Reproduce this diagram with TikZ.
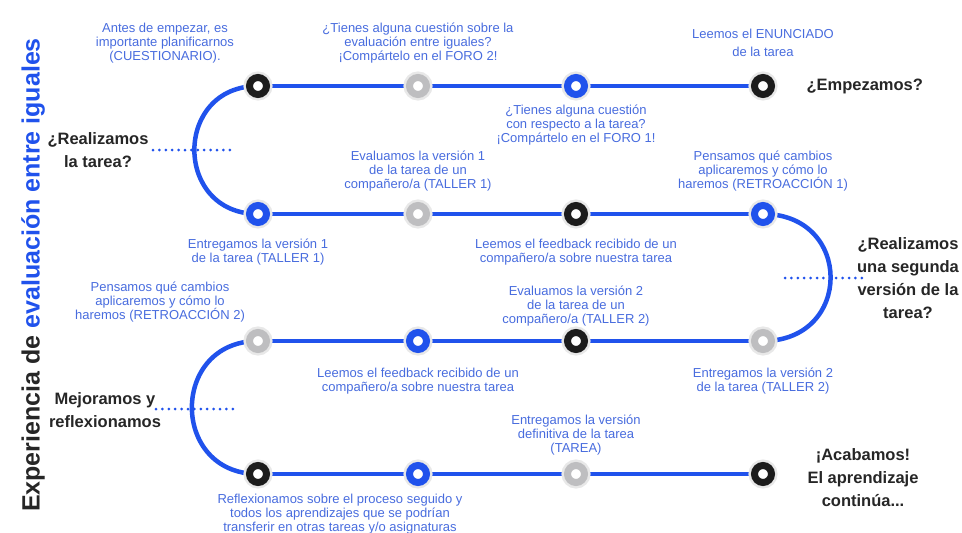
\documentclass[tikz,border=0pt]{standalone}
\usepackage{fontspec}
\setmainfont{Liberation Sans}
\usetikzlibrary{backgrounds, positioning}

\definecolor{pathblue}{RGB}{32,82,236}
\definecolor{textblue}{RGB}{72,108,222}
\definecolor{stopblack}{RGB}{28,28,28}
\definecolor{stopgrey}{RGB}{190,190,192}
\definecolor{headdark}{RGB}{38,38,38}

\begin{document}
\begin{tikzpicture}[x=1pt, y=-1pt,
		milestone/.style={circle, draw=#1, line width=7pt, fill=white, minimum size=17pt, inner sep=0pt, preaction={draw=black!9, line width=12pt}},
		track/.style={draw=pathblue, line width=4.5pt},
		dots/.style={draw=pathblue, line width=3pt, line cap=round, dash pattern=on 0pt off 6.4pt},
		desc/.style={text=textblue, font=\fontsize{13}{14.2}\selectfont, align=center},
		question/.style={text=headdark, font=\fontsize{16.5}{23}\selectfont\bfseries, align=center}
		]
		\useasboundingbox (0,0) rectangle (962,533);
		
		% ----- Title -----
		\node[rotate=90, font=\fontsize{25}{28}\selectfont\bfseries] (title) at (33,275) {\textcolor{headdark}{Experiencia de} \textcolor{pathblue}{evaluación entre iguales}};
		
		% Milestones, row 1
		\node[milestone=stopblack] (r1a) at (258,86) {};
		\node[milestone=stopgrey] (r1b) at (418,86) {};
		\node[milestone=pathblue] (r1c) at (576,86) {};
		\node[milestone=stopblack] (r1d) at (763,86) {};
		
		% Milestones, row 2
		\node[milestone=pathblue] (r2a) at (258,214) {};
		\node[milestone=stopgrey] (r2b) at (418,214) {};
		\node[milestone=stopblack] (r2c) at (576,214) {};
		\node[milestone=pathblue] (r2d) at (763,214) {};
		
		% Milestones, row 3
		\node[milestone=stopgrey] (r3a) at (258,341) {};
		\node[milestone=pathblue] (r3b) at (418,341) {};
		\node[milestone=stopblack] (r3c) at (576,341) {};
		\node[milestone=stopgrey] (r3d) at (763,341) {};
		
		% Milestones, row 4
		\node[milestone=stopblack] (r4a) at (258,474) {};
		\node[milestone=pathblue] (r4b) at (418,474) {};
		\node[milestone=stopgrey] (r4c) at (576,474) {};
		\node[milestone=stopblack] (r4d) at (763,474) {};
		
		% Track
		\begin{scope}[on background layer]
			\draw[track] (r1a.center) -- (r1d.center);
			\draw[track] (r2a.center) -- (r2d.center);
			\draw[track] (r3a.center) -- (r3d.center);
			\draw[track] (r4a.center) -- (r4d.center);
			\draw[track] (r1a.center) to[out=180, in=180, looseness=1.7] (r2a.center);
			\draw[track] (r2d.center) to[out=0, in=0, looseness=1.82] (r3d.center);
			\draw[track] (r3a.center) to[out=180, in=180, looseness=1.7] (r4a.center);
		\end{scope}
		
		% Dotted markers
		\coordinate (q1l) at (153,150); \coordinate (q1r) at (236,150);
		\coordinate (q2l) at (785,278); \coordinate (q2r) at (868,278);
		\coordinate (q3l) at (156,409); \coordinate (q3r) at (236,409);
		\draw[dots] (q1l) -- (q1r);
		\draw[dots] (q2l) -- (q2r);
		\draw[dots] (q3l) -- (q3r);
		
		% Questions
		\node[question, anchor=west] (qstart) at (803,86) {¿Empezamos?};
		\node[question] (qtask) at (98,150) {¿Realizamos\\la tarea?};
		\node[question] (qsecond) at (908,278) {¿Realizamos\\una segunda\\versión de la\\tarea?};
		\node[question] (qimprove) at (105,410) {Mejoramos y\\reflexionamos};
		\node[question] (qend) at (863,478) {¡Acabamos!\\El aprendizaje\\continúa...};
		
		% Descriptions, row 1
		\node[desc] (t1a) at (165,43) {Antes de empezar, es\\importante planificarnos\\(CUESTIONARIO).};
		\node[desc] (t1b) at (418,43) {¿Tienes alguna cuestión sobre la\\evaluación entre iguales?\\¡Compártelo en el FORO 2!};
		\node[desc] (t1c) at (576,125) {¿Tienes alguna cuestión\\con respecto a la tarea?\\¡Compártelo en el FORO 1!};
		\node[desc] (t1d) at (763,43) {Leemos el ENUNCIADO\\[4pt]de la tarea};
		
		% Descriptions, row 2
		\node[desc] (t2a) at (258,252) {Entregamos la versión 1\\de la tarea (TALLER 1)};
		\node[desc] (t2b) at (418,171) {Evaluamos la versión 1\\de la tarea de un\\compañero/a (TALLER 1)};
		\node[desc] (t2c) at (576,252) {Leemos el feedback recibido de un\\compañero/a sobre nuestra tarea};
		\node[desc] (t2d) at (763,171) {Pensamos qué cambios\\aplicaremos y cómo lo\\haremos (RETROACCIÓN 1)};
		
		% Descriptions, row 3
		\node[desc] (t3a) at (160,302) {Pensamos qué cambios\\aplicaremos y cómo lo\\haremos (RETROACCIÓN 2)};
		\node[desc] (t3b) at (418,381) {Leemos el feedback recibido de un\\compañero/a sobre nuestra tarea};
		\node[desc] (t3c) at (576,306) {Evaluamos la versión 2\\de la tarea de un\\compañero/a (TALLER 2)};
		\node[desc] (t3d) at (763,381) {Entregamos la versión 2\\de la tarea (TALLER 2)};
		
		% Descriptions, row 4
		\node[desc] (t4a) at (340,514) {Reflexionamos sobre el proceso seguido y\\todos los aprendizajes que se podrían\\transferir en otras tareas y/o asignaturas};
		\node[desc] (t4c) at (576,435) {Entregamos la versión\\definitiva de la tarea\\(TAREA)};
		
	\end{tikzpicture}
\end{document}
